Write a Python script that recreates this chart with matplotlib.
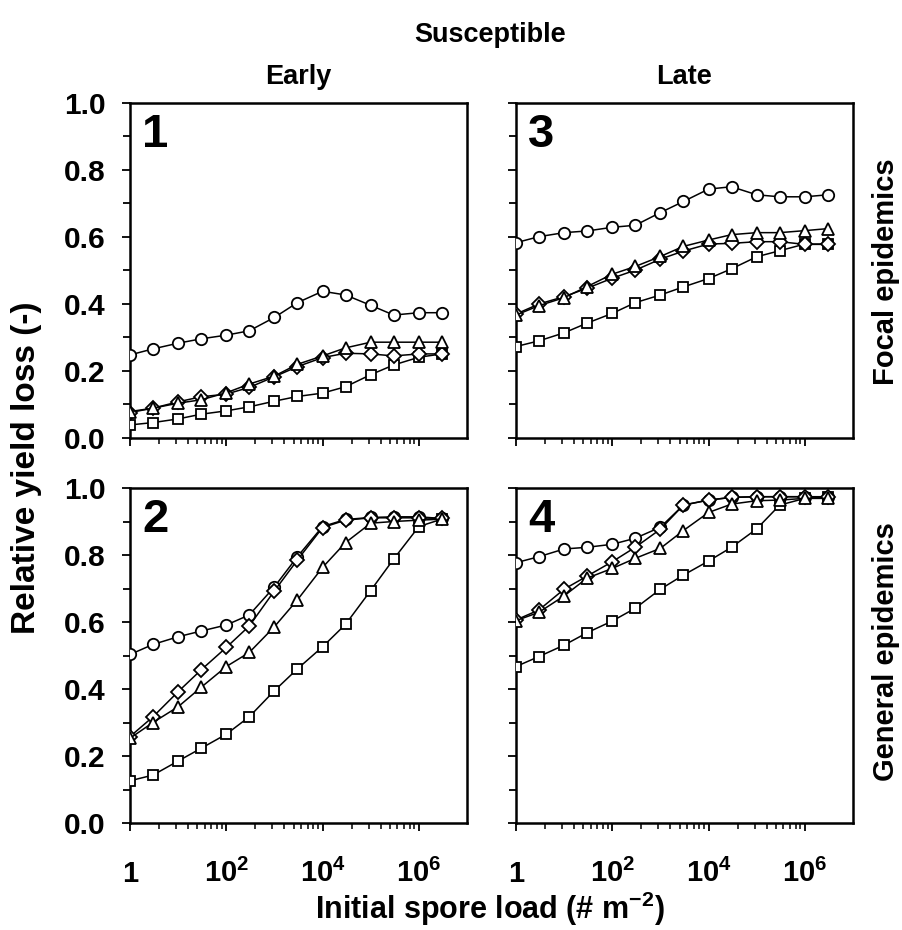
import matplotlib
matplotlib.use("Agg")
import matplotlib.pyplot as plt

plt.rcParams['font.family'] = ['Liberation Sans', 'DejaVu Sans']
plt.rcParams['font.weight'] = 'bold'
plt.rcParams['mathtext.default'] = 'regular'

# ---------------- data ----------------
spore_load = [1, 3, 10, 30, 100, 300, 1e3, 3e3, 1e4, 3e4, 1e5, 3e5, 1e6, 3e6]

# Panel 1: Early, focal epidemics
p1_circle   = [0.248, 0.266, 0.283, 0.296, 0.307, 0.320, 0.360, 0.404, 0.438, 0.427, 0.396, 0.367, 0.374, 0.374]
p1_square   = [0.039, 0.046, 0.057, 0.071, 0.081, 0.093, 0.110, 0.124, 0.134, 0.153, 0.189, 0.218, 0.241, 0.251]
p1_diamond  = [0.076, 0.089, 0.108, 0.123, 0.131, 0.151, 0.183, 0.213, 0.240, 0.253, 0.251, 0.245, 0.251, 0.251]
p1_triangle = [0.079, 0.089, 0.104, 0.114, 0.135, 0.161, 0.185, 0.220, 0.245, 0.269, 0.286, 0.286, 0.286, 0.286]

# Panel 2: Early, general epidemics
p2_circle   = [0.503, 0.533, 0.556, 0.573, 0.591, 0.621, 0.705, 0.795, 0.885, 0.906, 0.912, 0.914, 0.914, 0.909]
p2_square   = [0.126, 0.143, 0.185, 0.223, 0.265, 0.317, 0.395, 0.460, 0.526, 0.593, 0.694, 0.788, 0.885, 0.907]
p2_diamond  = [0.258, 0.317, 0.392, 0.457, 0.524, 0.588, 0.693, 0.785, 0.882, 0.904, 0.911, 0.911, 0.911, 0.909]
p2_triangle = [0.253, 0.300, 0.347, 0.405, 0.467, 0.509, 0.586, 0.666, 0.763, 0.837, 0.895, 0.900, 0.904, 0.907]

# Panel 3: Late, focal epidemics
p3_circle   = [0.583, 0.601, 0.613, 0.618, 0.629, 0.635, 0.673, 0.706, 0.743, 0.750, 0.726, 0.720, 0.720, 0.726]
p3_square   = [0.273, 0.290, 0.314, 0.343, 0.372, 0.404, 0.427, 0.451, 0.476, 0.505, 0.541, 0.559, 0.579, 0.579]
p3_diamond  = [0.370, 0.400, 0.422, 0.447, 0.477, 0.501, 0.534, 0.558, 0.579, 0.581, 0.586, 0.586, 0.578, 0.578]
p3_triangle = [0.367, 0.395, 0.419, 0.452, 0.489, 0.512, 0.542, 0.572, 0.591, 0.607, 0.613, 0.613, 0.619, 0.625]

# Panel 4: Late, general epidemics
p4_circle   = [0.777, 0.795, 0.818, 0.823, 0.832, 0.850, 0.883, 0.949, 0.964, 0.972, 0.974, 0.974, 0.974, 0.974]
p4_square   = [0.467, 0.497, 0.531, 0.568, 0.603, 0.641, 0.698, 0.740, 0.782, 0.823, 0.878, 0.949, 0.969, 0.972]
p4_diamond  = [0.606, 0.636, 0.698, 0.737, 0.780, 0.823, 0.877, 0.949, 0.964, 0.972, 0.974, 0.974, 0.974, 0.972]
p4_triangle = [0.604, 0.629, 0.678, 0.731, 0.760, 0.790, 0.820, 0.873, 0.927, 0.952, 0.962, 0.964, 0.969, 0.969]

x_major = [1, 1e2, 1e4, 1e6]
x_major_labels = ['1', r'$10^{2}$', r'$10^{4}$', r'$10^{6}$']
y_major = [0.0, 0.2, 0.4, 0.6, 0.8, 1.0]
y_major_labels = ['0.0', '0.2', '0.4', '0.6', '0.8', '1.0']
y_minor = [0.1, 0.3, 0.5, 0.7, 0.9]

panel_numbers = ['1', '2', '3', '4']
col_titles = ['Early', 'Late']
row_titles = ['Focal epidemics', 'General epidemics']

# --------------- figure ---------------
W, H = 903, 930
fig = plt.figure(figsize=(W / 100, H / 100), dpi=100)

def box(l, t, r, b):
    return [l / W, 1 - b / H, (r - l) / W, (b - t) / H]

ax1 = fig.add_axes(box(130, 103, 467, 438))
ax3 = fig.add_axes(box(516, 103, 853, 438))
ax2 = fig.add_axes(box(130, 488, 467, 823))
ax4 = fig.add_axes(box(516, 488, 853, 823))

panels = [
    (ax1, p1_circle, p1_square, p1_diamond, p1_triangle, panel_numbers[0], True, False),
    (ax2, p2_circle, p2_square, p2_diamond, p2_triangle, panel_numbers[1], True, True),
    (ax3, p3_circle, p3_square, p3_diamond, p3_triangle, panel_numbers[2], False, False),
    (ax4, p4_circle, p4_square, p4_diamond, p4_triangle, panel_numbers[3], False, True),
]

minor_x = [k * k * (100 ** n) for n in range(3) for k in range(2, 10)]

line_kw = dict(color='black', lw=1.1, mfc='white', mec='black', mew=1.3)

for ax, circ, sq, dia, tri, num, show_y, show_x in panels:
    ax.set_xscale('log', base=100)
    ax.plot(spore_load, circ, marker='o', ms=8.2, **line_kw, zorder=3)
    ax.plot(spore_load, sq, marker='s', ms=7.4, **line_kw, zorder=4)
    ax.plot(spore_load, dia, marker='D', ms=7.4, **line_kw, zorder=5)
    ax.plot(spore_load, tri, marker='^', ms=9.0, **line_kw, zorder=6)
    ax.set_xlim(1, 1e7)
    ax.set_ylim(0, 1.0)
    for s in ax.spines.values():
        s.set_linewidth(1.8)
    if show_x:
        ax.set_xticks(x_major, x_major_labels, va='baseline', fontsize=21, fontweight='bold')
    else:
        ax.set_xticks(x_major, [''] * len(x_major))
    ax.set_xticks(minor_x, minor=True)
    ax.set_xticklabels([], minor=True)
    if show_y:
        ax.set_yticks(y_major, y_major_labels, fontsize=21.5, fontweight='bold')
    else:
        ax.set_yticks(y_major, [''] * len(y_major))
    ax.set_yticks(y_minor, minor=True)
    ax.tick_params(axis='x', which='major', direction='out', length=5.5, width=1.3, pad=37)
    ax.tick_params(axis='x', which='minor', direction='out', length=4.5, width=1.1)
    ax.tick_params(axis='y', which='major', direction='out', length=5.8, width=1.3, pad=12)
    ax.tick_params(axis='y', which='minor', direction='out', length=5.0, width=1.3)
    ax.text(0.036, 0.868, num, transform=ax.transAxes, fontsize=34,
            fontweight='bold', ha='left', va='baseline')

fig.text(490 / W, 1 - 42 / H, 'Susceptible', ha='center', va='baseline',
         fontsize=19.5, fontweight='bold')
fig.text(298.5 / W, 1 - 84 / H, col_titles[0], ha='center', va='baseline',
         fontsize=19.5, fontweight='bold')
fig.text(684.5 / W, 1 - 84 / H, col_titles[1], ha='center', va='baseline',
         fontsize=19.5, fontweight='bold')
fig.text(886 / W, 1 - 272 / H, row_titles[0], rotation=90, ha='center',
         va='center', fontsize=21, fontweight='bold')
fig.text(886 / W, 1 - 652 / H, row_titles[1], rotation=90, ha='center',
         va='center', fontsize=21, fontweight='bold')
fig.text(27 / W, 1 - 468 / H, 'Relative yield loss (-)', rotation=90,
         ha='center', va='center', fontsize=24, fontweight='bold')
fig.text(490 / W, 1 - 919 / H, r'Initial spore load (# m$^{-2}$)',
         ha='center', va='baseline', fontsize=22, fontweight='bold')

fig.savefig('out.png', dpi=100)
